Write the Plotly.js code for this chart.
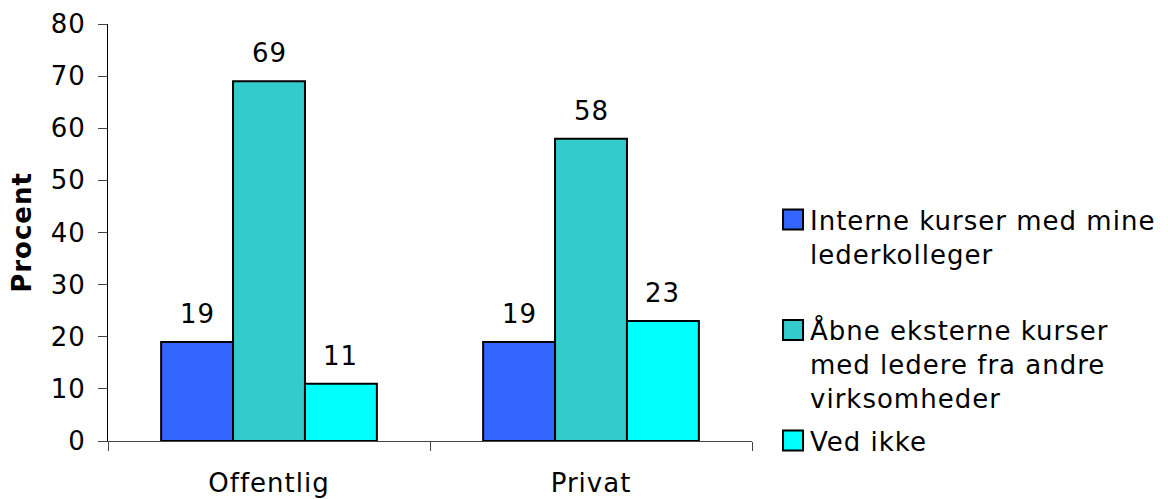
<!DOCTYPE html>
<html>
<head>
<meta charset="utf-8">
<script src="https://cdn.plot.ly/plotly-3.0.1.min.js"></script>
<style>
html,body{margin:0;padding:0;background:#fff;}
#chart{width:1168px;height:499px;}
#chart text{letter-spacing:1px;}
#chart .legend .scrollbox{clip-path:none !important;}
</style>
</head>
<body>
<div id="chart"></div>
<script>
const categories = ["Offentlig", "Privat"];
const seriesNames = [
  "Interne kurser med mine<br>lederkolleger<br> ",
  "Åbne eksterne kurser<br>med ledere fra andre<br>virksomheder",
  "Ved ikke"
];
const interne = [19, 19];
const aabne = [69, 58];
const vedIkke = [11, 23];
const seriesValues = [interne, aabne, vedIkke];
const seriesColors = ["#3366FF", "#33CCCC", "#00FFFF"];
const yTicks = [0, 10, 20, 30, 40, 50, 60, 70, 80];

const FONT = "DejaVu Sans, Verdana, sans-serif";
const W = 1168, H = 499;
const margin = {l: 108, r: 416, t: 24, b: 58};
const bargap = 0.33;
const plotW = W - margin.l - margin.r;
const barW = plotW / categories.length * (1 - bargap) / seriesValues.length;

const traces = seriesValues.map((vals, i) => ({
  type: "bar",
  name: seriesNames[i],
  legendgroup: "g" + i,
  x: categories,
  y: vals,
  marker: {color: seriesColors[i], line: {color: "#000", width: 2}},
  hoverinfo: "skip"
}));

const annotations = [];
seriesValues.forEach((vals, i) => {
  vals.forEach((v, j) => {
    annotations.push({
      x: categories[j], y: v, xref: "x", yref: "y",
      text: String(v), showarrow: false,
      xshift: (i - (seriesValues.length - 1) / 2) * barW,
      yshift: 28, yanchor: "middle",
      font: {family: FONT, size: 26, color: "#000"}
    });
  });
});

const layout = {
  width: W, height: H,
  margin: margin,
  paper_bgcolor: "#fff", plot_bgcolor: "#fff",
  font: {family: FONT, size: 26, color: "#000"},
  barmode: "group",
  bargap: bargap,
  bargroupgap: 0,
  showlegend: true,
  legend: {
    x: 1.028, xanchor: "left",
    y: 0.587, yanchor: "top",
    valign: "top",
    traceorder: "grouped",
    tracegroupgap: 6,
    font: {family: FONT, size: 26, color: "#000"},
    bgcolor: "rgba(0,0,0,0)"
  },
  xaxis: {
    type: "category",
    showline: true, linecolor: "#444", linewidth: 1,
    ticks: "outside", tickson: "boundaries", ticklen: 9, tickcolor: "#444",
    ticklabelstandoff: 19,
    showgrid: false, zeroline: false,
    tickfont: {family: FONT, size: 26, color: "#000"},
    fixedrange: true
  },
  yaxis: {
    range: [0, 80],
    tickvals: yTicks,
    ticktext: yTicks.map(String),
    showline: true, linecolor: "#000", linewidth: 1,
    ticks: "outside", ticklen: 9, tickcolor: "#444",
    ticklabelstandoff: 7,
    showgrid: false, zeroline: false,
    tickfont: {family: FONT, size: 26, color: "#000"},
    title: {text: "<b>Procent</b>", standoff: 13, font: {family: FONT, size: 26, color: "#000"}},
    fixedrange: true
  },
  annotations: annotations
};

Plotly.newPlot("chart", traces, layout, {displayModeBar: false, staticPlot: true}).then(gd => {
  gd.querySelectorAll(".legend .legendpoints path").forEach(p => p.setAttribute("d", "M13,10H-7V-10H13Z"));
});
</script>
</body>
</html>
